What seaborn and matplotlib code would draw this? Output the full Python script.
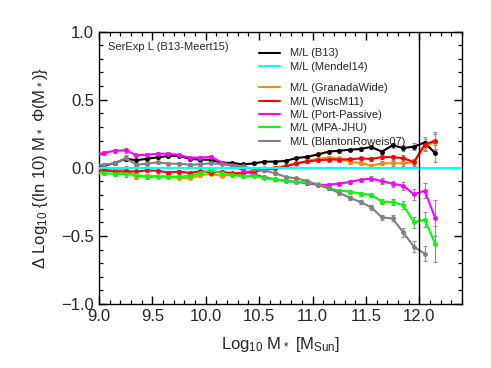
import matplotlib
matplotlib.use("Agg")
import matplotlib.pyplot as plt
from matplotlib.lines import Line2D
from matplotlib.ticker import MultipleLocator, FixedLocator, FuncFormatter
import pandas as pd
import seaborn as sns

# bin centres (log stellar mass)
logm = [8.95, 9.05, 9.15, 9.25, 9.35, 9.45, 9.55, 9.65, 9.75, 9.85, 9.95,
        10.05, 10.15, 10.25, 10.35, 10.45, 10.55, 10.65, 10.75, 10.85, 10.95,
        11.05, 11.15, 11.25, 11.35, 11.45, 11.55, 11.65, 11.75, 11.85, 11.95,
        12.05, 12.15]

# Delta log phi relative to Mendel14
d_b13 = [0.02, 0.015, 0.035, 0.066, 0.055, 0.066, 0.076, 0.086, 0.088, 0.065, 0.06,
         0.058, 0.037, 0.035, 0.025, 0.032, 0.045, 0.045, 0.05, 0.072, 0.08,
         0.098, 0.118, 0.125, 0.132, 0.138, 0.152, 0.118, 0.165, 0.145, 0.155,
         0.185, 0.105]
d_granada = [-0.015, -0.015, -0.018, -0.01, -0.07, -0.06, -0.06, -0.065, -0.076, -0.076, -0.055,
             -0.045, -0.06, -0.052, -0.04, -0.018, -0.005, 0.0, 0.015, 0.03, 0.05,
             0.065, 0.075, 0.068, 0.042, 0.035, 0.015, 0.033, 0.033, 0.033, 0.04,
             0.16, 0.19]
d_wisc = [-0.02, -0.02, -0.028, -0.027, -0.027, -0.02, -0.022, -0.035, -0.028, -0.038, -0.025,
          -0.035, -0.03, -0.04, -0.04, -0.028, -0.015, -0.005, 0.01, 0.033, 0.046,
          0.055, 0.06, 0.06, 0.063, 0.068, 0.065, 0.078, 0.078, 0.07, 0.042,
          0.17, 0.2]
d_port = [0.09, 0.11, 0.125, 0.128, 0.092, 0.097, 0.103, 0.103, 0.094, 0.074, 0.074,
          0.08, 0.038, 0.02, -0.02, -0.05, -0.07, -0.085, -0.098, -0.104, -0.114,
          -0.126, -0.125, -0.116, -0.104, -0.088, -0.079, -0.098, -0.116, -0.132, -0.195,
          -0.168, -0.37]
d_mpa = [-0.04, -0.04, -0.045, -0.045, -0.052, -0.068, -0.065, -0.065, -0.065, -0.06, -0.04,
         -0.018, -0.04, -0.052, -0.064, -0.06, -0.076, -0.085, -0.095, -0.104, -0.108,
         -0.12, -0.15, -0.168, -0.175, -0.19, -0.2, -0.248, -0.252, -0.275, -0.4,
         -0.38, -0.56]
d_blanton = [0.02, 0.022, 0.034, 0.07, 0.022, 0.03, 0.04, 0.03, 0.03, 0.022, 0.025,
             0.034, 0.027, 0.015, 0.01, -0.01, -0.02, -0.04, -0.068, -0.078, -0.097,
             -0.126, -0.15, -0.185, -0.22, -0.252, -0.29, -0.365, -0.372, -0.475, -0.58,
             -0.63, float("nan")]

err_small = [0.015, 0.015, 0.015, 0.02, 0.012, 0.012, 0.01, 0.01, 0.01, 0.01, 0.01,
             0.01, 0.01, 0.01, 0.01, 0.01, 0.01, 0.01, 0.01, 0.01, 0.01,
             0.01, 0.01, 0.012, 0.012, 0.012, 0.015, 0.015, 0.018, 0.02, 0.025,
             0.04, 0.06]
err_large = [0.015, 0.015, 0.015, 0.02, 0.012, 0.012, 0.01, 0.01, 0.01, 0.01, 0.01,
             0.01, 0.01, 0.01, 0.01, 0.01, 0.01, 0.01, 0.01, 0.01, 0.01,
             0.01, 0.012, 0.012, 0.015, 0.015, 0.018, 0.02, 0.022, 0.03, 0.04,
             0.055, 0.13]

models = ["M/L (B13)", "M/L (GranadaWide)", "M/L (WiscM11)", "M/L (Port-Passive)",
          "M/L (MPA-JHU)", "M/L (BlantonRoweis07)"]
deltas = [d_b13, d_granada, d_wisc, d_port, d_mpa, d_blanton]
errs = [err_small, err_small, err_small, err_large, err_large, err_large]
colors = {"M/L (B13)": "black", "M/L (Mendel14)": "#00ffff",
          "M/L (GranadaWide)": "#ff8c00", "M/L (WiscM11)": "#ff0000",
          "M/L (Port-Passive)": "#ff00ff", "M/L (MPA-JHU)": "#00ff00",
          "M/L (BlantonRoweis07)": "#808080"}

rows = []
for name, d, e in zip(models, deltas, errs):
    for x, y, s in zip(logm, d, e):
        rows.append({"logm": x, "delta": y, "err": s, "model": name})
df = pd.DataFrame(rows)

sns.set_theme(style="ticks")
plt.rcParams['font.family'] = ['Liberation Sans', 'DejaVu Sans']
plt.rcParams['mathtext.default'] = 'regular'
plt.rcParams.update({
    'xtick.direction': 'in', 'ytick.direction': 'in',
    'xtick.top': True, 'ytick.right': True,
    'axes.axisbelow': False,
})

fig = plt.figure(figsize=(4.91, 3.68), dpi=100)
ax = fig.add_axes([0.2016, 0.1739, 0.7393, 0.7405])

# error bars first, then the lines
for name in models:
    sub = df[df["model"] == name]
    ax.errorbar(sub["logm"], sub["delta"], yerr=sub["err"], fmt="none",
                ecolor="#909090", elinewidth=0.8, capsize=1.5, capthick=0.8, zorder=2)

sns.lineplot(data=df.dropna(), x="logm", y="delta", hue="model", palette=colors,
             hue_order=models, estimator=None, sort=False, marker="o", markersize=3.5,
             markeredgewidth=0, linewidth=1.5, legend=False, ax=ax, zorder=3)

ax.axhline(0.0, color="#00ffff", lw=1.5, zorder=4)
ax.axvline(12.0, color="black", lw=1.0, zorder=4)

ax.set_xlim(9.0, 12.4)
ax.set_ylim(-1.0, 1.0)
ax.xaxis.set_major_locator(FixedLocator([9.0, 9.5, 10.0, 10.5, 11.0, 11.5, 12.0]))
ax.xaxis.set_minor_locator(MultipleLocator(0.1))
ax.yaxis.set_major_locator(MultipleLocator(0.5))
ax.yaxis.set_minor_locator(MultipleLocator(0.1))
ax.tick_params(which="major", direction="in", bottom=True, left=True, top=True, right=True,
               labelsize=12, length=6, width=1.0, color="black")
ax.tick_params(which="minor", direction="in", bottom=True, left=True, top=True, right=True,
               length=3, width=0.9, color="black")
ax.xaxis.set_major_formatter(FuncFormatter(lambda v, p: "%.1f" % v))
ax.yaxis.set_major_formatter(FuncFormatter(lambda v, p: ("%.1f" % v).replace("-", "\u2212")))
for sp in ax.spines.values():
    sp.set_linewidth(1.0)
    sp.set_color("black")

ax.set_xlabel(r"Log$_{10}$ M$_*$ [M$_{Sun}$]", fontsize=12, labelpad=8)
ax.set_ylabel(r"$\Delta$ Log$_{10}$ {(ln 10) M$_*$ $\Phi$(M$_*$)}", fontsize=12, labelpad=8)

ax.text(0.025, 0.943, "SerExp L (B13-Meert15)", transform=ax.transAxes, fontsize=8, va="center")

# legend in two blocks (reference models, then the others)
top_names = ["M/L (B13)", "M/L (Mendel14)"]
low_names = ["M/L (GranadaWide)", "M/L (WiscM11)", "M/L (Port-Passive)",
             "M/L (MPA-JHU)", "M/L (BlantonRoweis07)"]
leg_kw = dict(loc="upper left", frameon=False, fontsize=8, handlelength=1.9,
              handletextpad=0.9, labelspacing=0.3, borderpad=0, borderaxespad=0)
leg1 = ax.legend([Line2D([], [], color=colors[n], lw=1.5) for n in top_names], top_names,
                 bbox_to_anchor=(0.44, 0.938), **leg_kw)
ax.add_artist(leg1)
ax.legend([Line2D([], [], color=colors[n], lw=1.5) for n in low_names], low_names,
          bbox_to_anchor=(0.44, 0.81), **leg_kw)

fig.savefig("out.png", dpi=100)
